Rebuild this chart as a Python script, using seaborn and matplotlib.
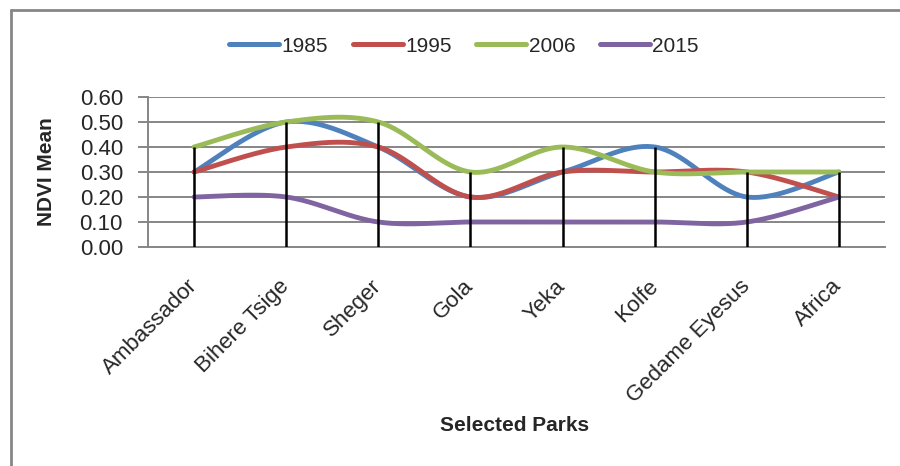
import numpy as np
import pandas as pd
import matplotlib
matplotlib.use("Agg")
import matplotlib.pyplot as plt
from matplotlib.lines import Line2D
import seaborn as sns

parks = ["Ambassador", "Bihere Tsige", "Sheger", "Gola", "Yeka", "Kolfe",
         "Gedame Eyesus", "Africa"]
years = ["1985", "1995", "2006", "2015"]
ndvi_1985 = [0.30, 0.50, 0.40, 0.20, 0.30, 0.40, 0.20, 0.30]
ndvi_1995 = [0.30, 0.40, 0.40, 0.20, 0.30, 0.30, 0.30, 0.20]
ndvi_2006 = [0.40, 0.50, 0.50, 0.30, 0.40, 0.30, 0.30, 0.30]
ndvi_2015 = [0.20, 0.20, 0.10, 0.10, 0.10, 0.10, 0.10, 0.20]
yticks = [0.00, 0.10, 0.20, 0.30, 0.40, 0.50, 0.60]
colors = ["#4F81BD", "#C0504D", "#9BBB59", "#8064A2"]
series = [ndvi_1985, ndvi_1995, ndvi_2006, ndvi_2015]


def smooth_curve(values, steps=40):
    """Catmull-Rom style Bezier smoothing through the data points."""
    pts = np.column_stack([np.arange(len(values), dtype=float),
                           np.asarray(values, dtype=float)])
    out = []
    n = len(pts)
    for i in range(n - 1):
        p0 = pts[i - 1] if i > 0 else pts[i]
        p1, p2 = pts[i], pts[i + 1]
        p3 = pts[i + 2] if i + 2 < n else pts[i + 1]
        c1 = p1 + (p2 - p0) / 6.0
        c2 = p2 - (p3 - p1) / 6.0
        t = np.linspace(0, 1, steps, endpoint=(i == n - 2))[:, None]
        seg = ((1 - t) ** 3) * p1 + 3 * ((1 - t) ** 2) * t * c1 \
            + 3 * (1 - t) * t ** 2 * c2 + t ** 3 * p2
        out.append(seg)
    return np.vstack(out)


frames = []
for yr, vals in zip(years, series):
    c = smooth_curve(vals)
    frames.append(pd.DataFrame({"x": c[:, 0], "y": c[:, 1], "year": yr}))
df = pd.concat(frames, ignore_index=True)

sns.set_theme(style="white")
plt.rcParams["font.family"] = ["Liberation Sans", "DejaVu Sans"]

fig = plt.figure(figsize=(9, 4.66), dpi=100)
ax_w = (885 - 148)
ax_h = (247 - 97)
ax = fig.add_axes([148 / 900, 1 - 247 / 466, ax_w / 900, ax_h / 466])

grid_c = "#868686"
for yv in yticks[1:]:
    ax.axhline(yv, color=grid_c, lw=1.4, zorder=1)

sns.lineplot(data=df, x="x", y="y", hue="year", palette=colors, sort=False,
             estimator=None, linewidth=3.5, legend=False, ax=ax, zorder=3)
for line in ax.lines[len(yticks) - 1:]:
    line.set_solid_capstyle("round")

# drop lines from the highest series value to the axis
tops = np.max(np.array(series), axis=0)
ax.vlines(np.arange(len(parks)), 0, tops, color="black", lw=1.8, zorder=4)

ax.set_xlim(-0.5, len(parks) - 0.5)
ax.set_ylim(0, 0.6)
ax.set_yticks(yticks)
ax.set_yticklabels([f"{v:.2f}" for v in yticks], fontsize=16)
ax.set_xticks(np.arange(len(parks)))
ax.set_xticklabels(parks, rotation=45, ha="right", va="center",
                   rotation_mode="anchor", fontsize=16)
ax.tick_params(axis="x", length=0, pad=26)
ax.tick_params(axis="y", length=7, width=1.4, color=grid_c, direction="out",
               left=True, pad=11)
for side in ["top", "right"]:
    ax.spines[side].set_visible(False)
for side in ["left", "bottom"]:
    ax.spines[side].set_color(grid_c)
    ax.spines[side].set_linewidth(1.4)
ax.set_xlabel("Selected Parks", fontsize=15, fontweight="bold")
ax.set_ylabel("NDVI Mean", fontsize=15, fontweight="bold")
ax.xaxis.set_label_coords((515 - 148) / ax_w, -(416 - 247) / ax_h)
ax.yaxis.set_label_coords(-(148 - 56) / ax_w, 0.5)

handles = [Line2D([0], [0], color=c, lw=3.6, solid_capstyle="round")
           for c in colors]
fig.legend(handles, years, loc="center", bbox_to_anchor=(464 / 900, 1 - 46 / 466),
           ncol=4, frameon=False, fontsize=15, handlelength=2.4,
           handletextpad=0.1, columnspacing=1.2)

# chart area border (top and left edges)
border = dict(color=grid_c, lw=2, transform=fig.transFigure)
fig.add_artist(Line2D([11 / 900, 1], [1 - 10 / 466, 1 - 10 / 466], **border))
fig.add_artist(Line2D([11 / 900, 11 / 900], [0, 1 - 10 / 466], **border))

fig.savefig("out.png", dpi=100, facecolor="white")
